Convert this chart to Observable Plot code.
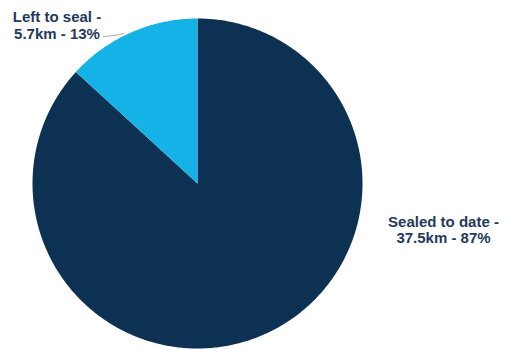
<!DOCTYPE html>
<html>
<head>
<meta charset="utf-8">
<script src="https://cdn.jsdelivr.net/npm/d3@7"></script>
<script src="https://cdn.jsdelivr.net/npm/@observablehq/plot@0.6"></script>
<style>
  html, body { margin: 0; padding: 0; background: #fff; }
  #chart svg { display: block; }
</style>
</head>
<body>
<div id="chart"></div>
<script>
// Data
const categories = ["Sealed to date", "Left to seal"];
const kmValues = [37.5, 5.7];
const pctLabels = ["87%", "13%"];
const colors = ["#0d3153", "#15b2e8"];

const W = 510, H = 349;
const cx = 197, cy = 183, R = 165;

// pie angles (clockwise from 12 o'clock), first slice starts at top
const pie = d3.pie().sort(null).value(d => d)(kmValues);

// Polygon points for each slice (in unit-radius coordinates)
const pts = [];
pie.forEach((p, i) => {
  const n = Math.max(2, Math.ceil((p.endAngle - p.startAngle) / 0.01));
  pts.push({k: categories[i], x: 0, y: 0});
  for (let j = 0; j <= n; j++) {
    const a = p.startAngle + (p.endAngle - p.startAngle) * j / n;
    pts.push({k: categories[i], x: Math.sin(a), y: Math.cos(a)});
  }
  pts.push({k: categories[i], x: 0, y: 0});
});

// Labels
const labelRows = [
  {k: "Left to seal", line1: "Left to seal -", line2: `${kmValues[1]}km - ${pctLabels[1]}`, lx: -140.5 / R, ly: 158.5 / R},
  {k: "Sealed to date", line1: "Sealed to date -", line2: `${kmValues[0]}km - ${pctLabels[0]}`, lx: 246 / R, ly: -46 / R}
];
// leader line for small slice
const leader = [
  {x: -94 / R, y: 147 / R},
  {x: -82 / R, y: 148 / R},
  {x: -74 / R, y: 150 / R}
];

const xDom = [-cx / R, (W - cx) / R];
const yDom = [-(H - cy) / R, cy / R];

const chart = Plot.plot({
  width: W,
  height: H,
  margin: 0,
  x: {domain: xDom, axis: null},
  y: {domain: yDom, axis: null},
  color: {domain: categories, range: colors},
  style: {fontFamily: "'Liberation Sans', Arial, sans-serif", background: "#fff"},
  marks: [
    Plot.line(pts, {x: "x", y: "y", z: "k", fill: "k", stroke: "none", curve: "linear",
      style: "filter: drop-shadow(1px 1px 2px rgba(0,0,0,0.35))"}),
    Plot.line(leader, {x: "x", y: "y", stroke: "#a9a9a9", strokeWidth: 1, curve: "basis"}),
    Plot.text(labelRows, {x: "lx", y: "ly", text: d => d.line1 + "\n" + d.line2,
      fill: "#243a5a", fontSize: 15, fontWeight: "bold", lineHeight: 1.1, textAnchor: "middle"})
  ]
});
document.getElementById("chart").appendChild(chart);
</script>
</body>
</html>
